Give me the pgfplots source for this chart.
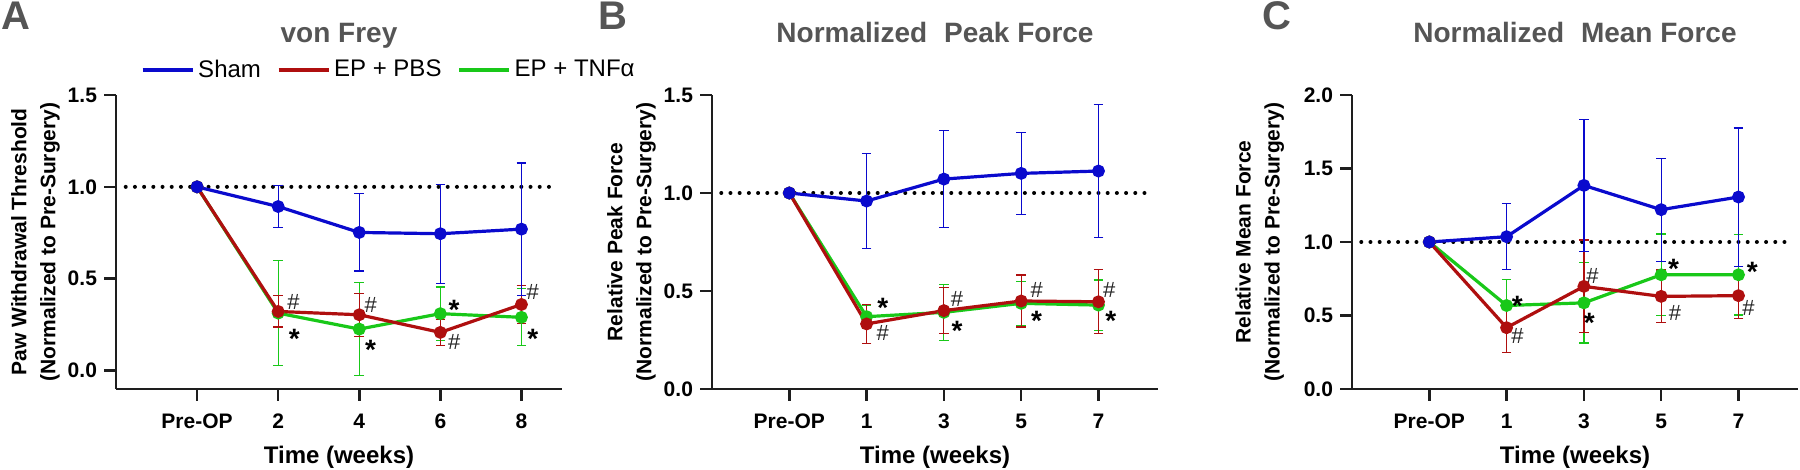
\documentclass[border=0pt]{standalone}
\usepackage{fontspec}
\setmainfont{Liberation Sans}
\usepackage{pgfplots}
\pgfplotsset{compat=1.18}
\definecolor{cblue}{RGB}{10,10,205}
\definecolor{cred}{RGB}{175,15,15}
\definecolor{cgreen}{RGB}{25,200,25}
\definecolor{tgray}{RGB}{85,85,85}
\definecolor{axc}{RGB}{30,30,30}

\tikzset{
  astk/.style={font=\fontsize{14}{14}\selectfont\bfseries, anchor=base, yshift=-8pt, inner sep=0pt},
  hsh/.style={font=\fontsize{11}{11}\selectfont, text=black!85, anchor=base, yshift=-3.9pt, inner sep=0pt},
}
\pgfplotsset{
  panel/.style={
    scale only axis, width=223pt, height=147pt,
    axis lines*=left, axis line style={line width=1.3pt, color=axc, -},
    xmin=-1,
    xtick={0,1,2,3,4},
    tick align=outside, major tick length=6pt,
    tick style={line width=1.3pt, color=axc},
    tick label style={font=\fontsize{10.5}{12}\selectfont\bfseries},
    xticklabel style={yshift=-3pt},
    xlabel={Time (weeks)},
    every axis x label/.style={at={(axis description cs:0.5,-0.252)}, anchor=base},
    xlabel style={font=\fontsize{12}{14}\selectfont\bfseries},
    ylabel style={font=\fontsize{10.5}{14.5}\selectfont\bfseries, align=center},
    every axis title/.style={at={(axis description cs:0.5,1.177)}, anchor=base},
    title style={font=\fontsize{14}{16}\selectfont\bfseries, color=tgray},
    clip=false,
  },
  ser/.style={color=#1, line width=1.6pt, mark=*, mark size=2.4pt, mark options={solid, fill=#1},
    /pgfplots/error bars/y dir=both, /pgfplots/error bars/y explicit,
    /pgfplots/error bars/error bar style={line width=0.6pt, color=#1},
    /pgfplots/error bars/error mark options={rotate=90, mark size=2.4pt, line width=0.6pt, color=#1}},
  refline/.style={black, line width=2pt, dash pattern=on 0pt off 4.6pt, line cap=round, forget plot},
}

\begin{document}
\begin{tikzpicture}
\useasboundingbox (0,0) rectangle (900pt,235pt);

% ---------------- Panel A ----------------
\begin{axis}[panel, at={(58pt,40.5pt)}, anchor=south west,
  xmax=4.5, ymin=-0.1, ymax=1.5,
  xticklabels={Pre-OP,2,4,6,8},
  ytick={0,0.5,1,1.5}, yticklabels={0.0,0.5,1.0,1.5},
  title={von Frey},
  ylabel={Paw Withdrawal Threshold\\(Normalized to Pre-Surgery)},
  ylabel style={at={(axis description cs:-0.1805,0.5)}, anchor=center},
  legend style={at={(axis description cs:0.614,1.085)}, anchor=center, draw=none, fill=none,
    font=\fontsize{12}{14}\selectfont, legend columns=3, inner sep=0pt,
    /tikz/every even column/.append style={column sep=6pt}},
  legend image code/.code={\draw[#1] (0pt,0pt) -- (25pt,0pt);},
]
\addlegendimage{cblue, line width=1.6pt}\addlegendentry{Sham}
\addlegendimage{cred, line width=1.6pt}\addlegendentry{EP + PBS}
\addlegendimage{cgreen, line width=1.6pt}\addlegendentry{EP + TNFα}
\addplot[refline] coordinates {(-0.88,1) (4.4,1)};
\addplot[forget plot, ser=cgreen] table[x=x, y=y, y error=e] {
x y e
0 1 0
1 0.313 0.286
2 0.226 0.254
3 0.310 0.145
4 0.290 0.155
};
\addplot[forget plot, ser=cred] table[x=x, y=y, y error=e] {
x y e
0 1 0
1 0.322 0.085
2 0.304 0.117
3 0.208 0.070
4 0.360 0.105
};
\addplot[forget plot, ser=cblue] table[x=x, y=y, y error=e] {
x y e
0 1 0
1 0.893 0.115
2 0.752 0.210
3 0.745 0.270
4 0.770 0.360
};
\node[hsh] at (axis cs:1.19,0.375) {\#};
\node[astk] at (axis cs:1.20,0.21) {*};
\node[hsh] at (axis cs:2.14,0.36) {\#};
\node[astk] at (axis cs:2.14,0.15) {*};
\node[astk] at (axis cs:3.17,0.365) {*};
\node[hsh] at (axis cs:3.17,0.16) {\#};
\node[hsh] at (axis cs:4.14,0.43) {\#};
\node[astk] at (axis cs:4.14,0.21) {*};
\end{axis}

% ---------------- Panel B ----------------
\begin{axis}[panel, at={(356pt,40.5pt)}, anchor=south west,
  xmax=4.77, ymin=0, ymax=1.5,
  xticklabels={Pre-OP,1,3,5,7},
  ytick={0,0.5,1,1.5}, yticklabels={0.0,0.5,1.0,1.5},
  title={Normalized\hspace{0.6em}Peak Force},
  ylabel={Relative Peak Force\\(Normalized to Pre-Surgery)},
  ylabel style={at={(axis description cs:-0.1805,0.5)}, anchor=center},
]
\addplot[refline] coordinates {(-0.88,1) (4.65,1)};
\addplot[ser=cgreen] table[x=x, y=y, y error=e] {
x y e
0 1 0
1 0.369 0.060
2 0.391 0.144
3 0.437 0.113
4 0.428 0.128
};
\addplot[ser=cred] table[x=x, y=y, y error=e] {
x y e
0 1 0
1 0.332 0.100
2 0.400 0.118
3 0.449 0.133
4 0.445 0.163
};
\addplot[ser=cblue] table[x=x, y=y, y error=e] {
x y e
0 1 0
1 0.959 0.242
2 1.071 0.247
3 1.100 0.210
4 1.112 0.340
};
\node[astk] at (axis cs:1.21,0.445) {*};
\node[hsh] at (axis cs:1.21,0.285) {\#};
\node[hsh] at (axis cs:2.17,0.46) {\#};
\node[astk] at (axis cs:2.17,0.33) {*};
\node[hsh] at (axis cs:3.20,0.505) {\#};
\node[astk] at (axis cs:3.20,0.38) {*};
\node[hsh] at (axis cs:4.14,0.505) {\#};
\node[astk] at (axis cs:4.16,0.38) {*};
\end{axis}

% ---------------- Panel C ----------------
\begin{axis}[panel, at={(676pt,40.5pt)}, anchor=south west,
  xmax=4.77, ymin=0, ymax=2,
  xticklabels={Pre-OP,1,3,5,7},
  ytick={0,0.5,1,1.5,2}, yticklabels={0.0,0.5,1.0,1.5,2.0},
  title={Normalized\hspace{0.6em}Mean Force},
  ylabel={Relative Mean Force\\(Normalized to Pre-Surgery)},
  ylabel style={at={(axis description cs:-0.207,0.5)}, anchor=center},
]
\addplot[refline] coordinates {(-0.88,1) (4.7,1)};
\addplot[ser=cgreen] table[x=x, y=y, y error=e] {
x y e
0 1 0
1 0.568 0.175
2 0.586 0.273
3 0.777 0.277
4 0.777 0.273
};
\addplot[ser=cred] table[x=x, y=y, y error=e] {
x y e
0 1 0
1 0.417 0.170
2 0.698 0.315
3 0.630 0.180
4 0.635 0.153
};
\addplot[ser=cblue] table[x=x, y=y, y error=e] {
x y e
0 1 0
1 1.036 0.225
2 1.385 0.450
3 1.220 0.350
4 1.306 0.470
};
\node[astk] at (axis cs:1.14,0.61) {*};
\node[hsh] at (axis cs:1.14,0.36) {\#};
\node[hsh] at (axis cs:2.11,0.77) {\#};
\node[astk] at (axis cs:2.07,0.49) {*};
\node[astk] at (axis cs:3.16,0.86) {*};
\node[hsh] at (axis cs:3.18,0.52) {\#};
\node[astk] at (axis cs:4.18,0.84) {*};
\node[hsh] at (axis cs:4.13,0.55) {\#};
\end{axis}

% panel letters
\node[anchor=base west, inner sep=0pt, font=\fontsize{20}{22}\selectfont\bfseries, text=tgray] at (0.5pt,220pt) {A};
\node[anchor=base west, inner sep=0pt, font=\fontsize{20}{22}\selectfont\bfseries, text=tgray] at (299pt,220pt) {B};
\node[anchor=base west, inner sep=0pt, font=\fontsize{20}{22}\selectfont\bfseries, text=tgray] at (631pt,220pt) {C};
\end{tikzpicture}
\end{document}
